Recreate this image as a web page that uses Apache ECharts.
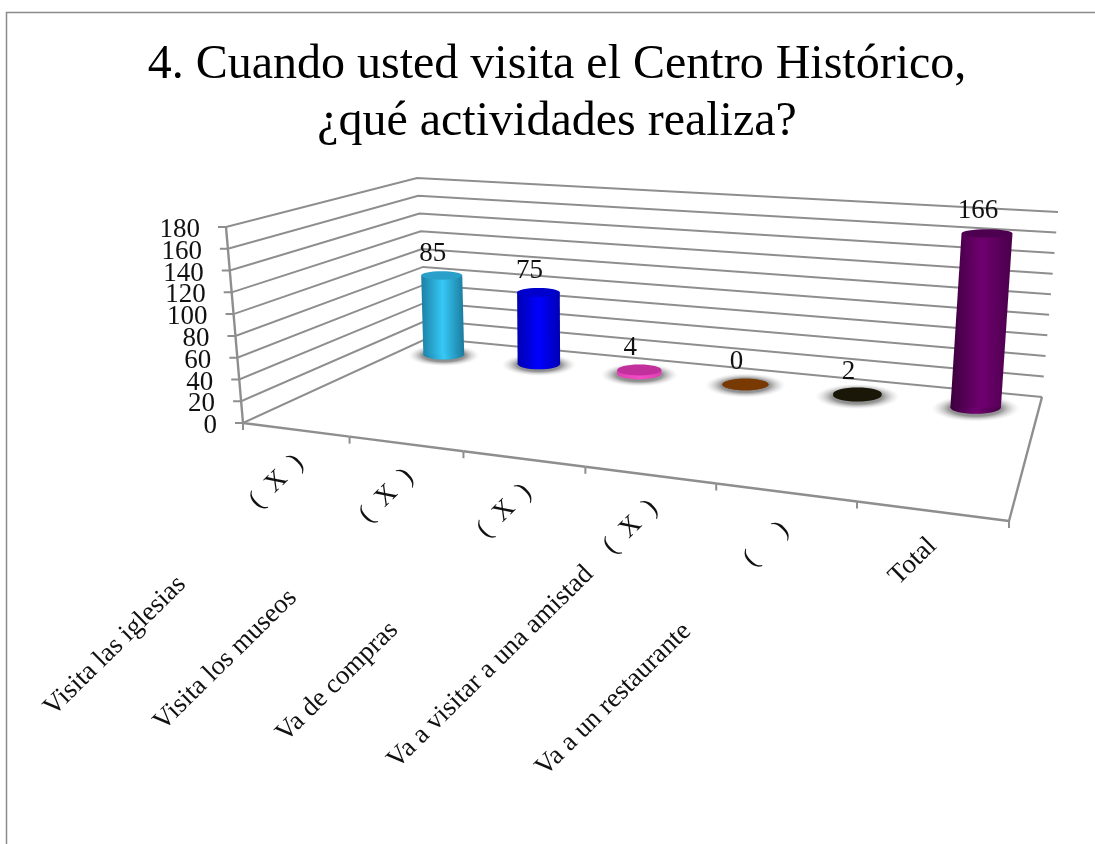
<!DOCTYPE html>
<html>
<head>
<meta charset="utf-8">
<style>html,body{margin:0;padding:0;background:#fff}#c{width:1095px;height:844px}</style>
<script src="https://cdn.jsdelivr.net/npm/echarts@6/dist/echarts.min.js"></script>
</head>
<body>
<div id="c"></div>
<script>
const titleText = '4. Cuando usted visita el Centro Histórico,\n¿qué actividades realiza?';
const categories = ['Visita las iglesias', 'Visita los museos', 'Va de compras', 'Va a visitar a una amistad', 'Va a un restaurante', 'Total'];
const marks = ['(  X  )', '(  X  )', '(  X  )', '(  X  )', '(     )', ''];
const labelGaps = [137, 136, 160, 60, 115, 0];
const values = [85, 75, 4, 0, 2, 166];
const yTicks = [0, 20, 40, 60, 80, 100, 120, 140, 160, 180];
const sideColors = [
  ['#1b7fa3', '#36c9f7', '#1b7a9c'],
  ['#0000b0', '#0000ff', '#0000b4'],
  ['#e040b4', '#f24cc6', '#e040b4'],
  ['#7a3d05', '#8c4a10', '#7a3d05'],
  ['#1a1708', '#1a1708', '#1a1708'],
  ['#3a003c', '#700070', '#48004a']
];
const topColors = ['#2a9fc9', '#0000cc', '#c2309e', '#783a02', '#1a1708', '#4e0050'];

const FONT = '"Liberation Serif", serif';
const INK = '#111';
const LINE = '#8e8e8e';

function homography(q) { // q: FL, FR, BR, BL
  const [p0, p1, p2, p3] = q;
  const dx1 = p1[0] - p2[0], dx2 = p3[0] - p2[0], sx = p0[0] - p1[0] + p2[0] - p3[0];
  const dy1 = p1[1] - p2[1], dy2 = p3[1] - p2[1], sy = p0[1] - p1[1] + p2[1] - p3[1];
  const det = dx1 * dy2 - dx2 * dy1;
  const g = (sx * dy2 - dx2 * sy) / det, h = (dx1 * sy - sx * dy1) / det;
  return (u, v) => {
    const w = g * u + h * v + 1;
    return [((p1[0] - p0[0] + g * p1[0]) * u + (p3[0] - p0[0] + h * p3[0]) * v + p0[0]) / w,
            ((p1[1] - p0[1] + g * p1[1]) * u + (p3[1] - p0[1] + h * p3[1]) * v + p0[1]) / w];
  };
}
const floorAt = homography([[243, 423], [1009, 521], [1042, 397], [428, 338]]);
const roofAt = homography([[226, 227], [1027, 296], [1058, 212], [417, 178]]);
const n = categories.length;
const DEPTH = 0.83;
const TILT = 44.5 * Math.PI / 180;

function fraction(api, v) {
  const y0 = api.coord([0, 0])[1], y1 = api.coord([0, 180])[1];
  return (y0 - api.coord([0, v])[1]) / (y0 - y1);
}
function at(u, v, t) {
  const a = floorAt(u, v), b = roofAt(u, v);
  return [a[0] + (b[0] - a[0]) * t, a[1] + (b[1] - a[1]) * t];
}
const stroke = { stroke: LINE, lineWidth: 2, fill: null };
function tilted(text, x, y, align) {
  return { type: 'text', x, y, rotation: TILT,
    style: { text, x: 0, y: 0, align, verticalAlign: 'middle', font: '27px ' + FONT, fill: INK } };
}

function renderWalls(params, api) {
  const v = api.value(1), t = fraction(api, v);
  const a = at(0, 0, t), b = at(0, 1, t), c = at(1, 1, t);
  return { type: 'group', children: [
    { type: 'polyline', shape: { points: [[a[0] - 8, a[1]], a, b, c] }, style: stroke },
    { type: 'text', style: { text: String(v), x: a[0] - 26, y: a[1] + 3, align: 'right', verticalAlign: 'middle',
        font: '27px ' + FONT, fill: INK } }
  ] };
}
function renderFloor(params, api) {
  const i = api.value(0);
  const a = floorAt(i / n, 0), b = floorAt((i + 1) / n, 0), m = floorAt((i + 0.5) / n, 0);
  const kids = [
    { type: 'line', shape: { x1: a[0], y1: a[1], x2: b[0], y2: b[1] }, style: { stroke: LINE, lineWidth: 2.4 } },
    { type: 'line', shape: { x1: a[0], y1: a[1], x2: a[0], y2: a[1] + 7 }, style: stroke }
  ];
  if (marks[i]) {
    const mx = m[0] - 19, my = m[1] + 52, g = labelGaps[i];
    kids.push(tilted(marks[i], mx, my, 'center'));
    kids.push(tilted(categories[i], mx - g * 0.69, my + g * 0.72, 'right'));
  } else {
    kids.push(tilted(categories[i], m[0] + 1, m[1] + 31, 'right'));
  }
  if (i === 0) {
    const top = at(0, 0, 1);
    kids.push({ type: 'line', shape: { x1: a[0], y1: a[1], x2: top[0], y2: top[1] }, style: { stroke: LINE, lineWidth: 2.4 } });
  }
  if (i === n - 1) {
    const back = floorAt(1, 1);
    kids.push({ type: 'line', shape: { x1: b[0], y1: b[1], x2: back[0], y2: back[1] }, style: { stroke: LINE, lineWidth: 2.4 } });
    kids.push({ type: 'line', shape: { x1: b[0], y1: b[1], x2: b[0], y2: b[1] + 7 }, style: stroke });
  }
  return { type: 'group', children: kids };
}
function renderBar(params, api) {
  const i = api.value(0), v = api.value(1), t = fraction(api, v);
  const u = (i + 0.5) / n;
  const floorPt = at(u, DEPTH, 0), roofPt = at(u, DEPTH, t);
  const base = [floorPt[0] - 4 * Math.max(0, 1 - 1.5 * u), floorPt[1]];
  const top = [base[0] + (-6 + 20 * u) * t, roofPt[1]];
  const du = 0.036;
  const rx0 = Math.abs(floorAt(u + du, DEPTH)[0] - floorAt(u - du, DEPTH)[0]) / 2 * (1.04 - 0.09 * u);
  const rx1 = rx0 * (1 + 0.01 * t);
  const ry0 = rx0 * 0.25, ry1 = rx1 * (0.25 - 0.1 * t);
  const side = sideColors[i];
  const grad = { type: 'linear', x: 0, y: 0, x2: 1, y2: 0, colorStops: [
    { offset: 0, color: side[0] }, { offset: 0.5, color: side[1] }, { offset: 1, color: side[2] }] };
  const kids = [
    { type: 'circle', x: base[0], y: base[1] + 1, scaleY: 0.3, shape: { cx: 0, cy: 0, r: rx0 * 1.75 },
      style: { fill: { type: 'radial', x: 0.5, y: 0.5, r: 0.5, colorStops: [
        { offset: 0, color: '#707070' }, { offset: 0.6, color: '#959595' }, { offset: 1, color: 'rgba(220,220,220,0)' }] } } },
    { type: 'ellipse', shape: { cx: base[0], cy: base[1], rx: rx0, ry: ry0 }, style: { fill: grad } },
    { type: 'polygon', shape: { points: [[top[0] - rx1, top[1]], [top[0] + rx1, top[1]], [base[0] + rx0, base[1]], [base[0] - rx0, base[1]]] },
      style: { fill: grad } },
    { type: 'ellipse', shape: { cx: top[0], cy: top[1], rx: rx1, ry: ry1 }, style: { fill: topColors[i] } },
    { type: 'text', style: { text: String(v), x: top[0] - 9, y: top[1] - 22, align: 'center', verticalAlign: 'middle',
        font: '27px ' + FONT, fill: INK } }
  ];
  return { type: 'group', children: kids };
}

const chart = echarts.init(document.getElementById('c'), null, { renderer: 'canvas' });
chart.setOption({
  animation: false,
  backgroundColor: '#ffffff',
  title: { text: titleText, left: 552, top: 32, textAlign: 'center',
    textStyle: { fontFamily: FONT, fontSize: 48, fontWeight: 'normal', color: '#000', lineHeight: 57 } },
  grid: { left: 243, top: 227, width: 766, height: 196 },
  xAxis: { type: 'category', data: categories, show: false },
  yAxis: { type: 'value', min: 0, max: 180, interval: 20, show: false },
  graphic: [{ type: 'rect', silent: true, z: -1, shape: { x: 6.5, y: 12.5, width: 1300, height: 1000 },
    style: { fill: 'none', stroke: '#8a8a8a', lineWidth: 1.5 } }],
  series: [
    { type: 'custom', name: 'walls', silent: true, clip: false, renderItem: renderWalls,
      data: yTicks.map(v => [0, v]), encode: { x: 0, y: 1 } },
    { type: 'custom', name: 'floor', silent: true, clip: false, renderItem: renderFloor,
      data: categories.map((c, i) => [i, 0]), encode: { x: 0, y: 1 } },
    { type: 'custom', name: 'Respuestas', silent: true, clip: false, renderItem: renderBar,
      data: values.map((v, i) => [i, v]), encode: { x: 0, y: 1 } }
  ]
});
</script>
</body>
</html>
